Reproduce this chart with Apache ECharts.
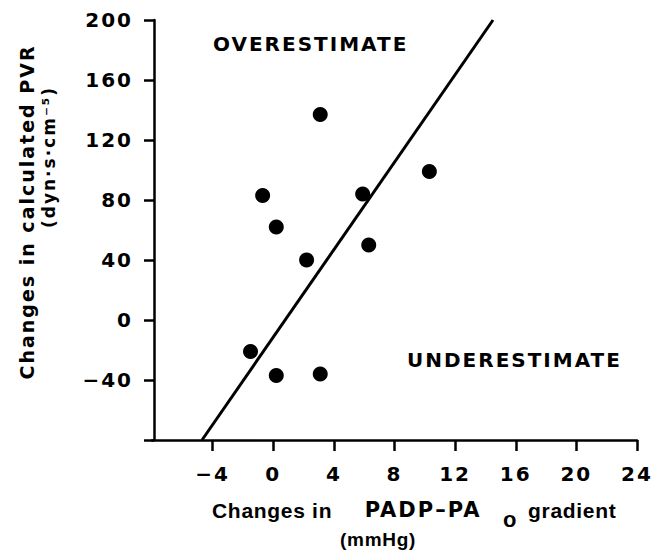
<!DOCTYPE html>
<html>
<head>
<meta charset="utf-8">
<script src="https://cdn.jsdelivr.net/npm/echarts@6/dist/echarts.min.js"></script>
<style>
  html, body { margin: 0; padding: 0; background: #fff; }
  #chart { width: 669px; height: 550px; }
  #chart text[style*="DejaVu"] { letter-spacing: 2px; }
  #chart text[style*="Liberation"] { letter-spacing: 0.7px; }
</style>
</head>
<body>
<div id="chart"></div>
<script>
// ---- data ----
const xTicks = [-4, 0, 4, 8, 12, 16, 20, 24];
const yTicks = [-40, 0, 40, 80, 120, 160, 200];
const xRange = [-8, 24];
const yRange = [-80, 200];
const pointX = [3.1, -0.7, 5.9, 10.3, 0.2, 6.3, 2.2, -1.5, 0.2, 3.1];
const pointY = [137, 83, 84, 99, 62, 50, 40, -21, -37, -36];
const fitX = [-4.7, 14.5];
const fitY = [-80, 200];

const WIDE = 'DejaVu Sans';
const NARROW = 'Liberation Sans';
const points = pointX.map((x, i) => [x, pointY[i]]);
const fit = fitX.map((x, i) => [x, fitY[i]]);
const minus = v => String(v).replace('-', '\u2212');

const chart = echarts.init(document.getElementById('chart'), null, { renderer: 'svg' });

const txt = (text, x, y, style, el) => Object.assign({
  type: 'text', x: x, y: y, silent: true,
  style: Object.assign({
    text: text, fill: '#000', fontFamily: WIDE, fontWeight: 'bold', fontSize: 20,
    align: 'left', textAlign: 'left', verticalAlign: 'middle', textVerticalAlign: 'middle'
  }, style || {})
}, el || {});
const center = { align: 'center', textAlign: 'center' };

chart.setOption({
  backgroundColor: '#fff',
  animation: false,
  grid: { left: 152, right: 32, top: 20, bottom: 110, containLabel: false },
  xAxis: {
    type: 'value', min: xRange[0], max: xRange[1], interval: 4,
    splitLine: { show: false },
    axisLine: { show: true, onZero: false, lineStyle: { color: '#000', width: 2.5 } },
    axisTick: { show: true, length: 11, lineStyle: { color: '#000', width: 2.5 }, customValues: xTicks },
    axisLabel: { color: '#000', fontFamily: WIDE, fontWeight: 'bold', fontSize: 20, margin: 24,
                 customValues: xTicks, formatter: minus }
  },
  yAxis: {
    type: 'value', min: yRange[0], max: yRange[1], interval: 40, offset: -2,
    name: 'Changes in calculated PVR', nameLocation: 'middle', nameRotate: 90, nameGap: 118,
    nameTextStyle: { color: '#000', fontFamily: WIDE, fontWeight: 'bold', fontSize: 19, padding: [0, 0, 0, 36] },
    splitLine: { show: false },
    axisLine: { show: true, onZero: false, lineStyle: { color: '#000', width: 2.5 } },
    axisTick: { show: true, length: 10, lineStyle: { color: '#000', width: 2.5 },
                customValues: [yRange[0]].concat(yTicks) },
    axisLabel: { color: '#000', fontFamily: WIDE, fontWeight: 'bold', fontSize: 20, margin: 21,
                 customValues: yTicks, formatter: minus }
  },
  graphic: [
    txt('(dyn·s·cm⁻⁵)', 49, 157, Object.assign({ fontSize: 17 }, center), { rotation: Math.PI / 2 }),
    txt('Changes in', 212, 510, { fontFamily: NARROW, fontSize: 21 }),
    txt('PADP–PA', 423, 510, Object.assign({ fontSize: 21 }, center)),
    txt('o', 503, 519, { fontFamily: NARROW, fontSize: 22 }),
    txt('gradient', 528, 510, { fontFamily: NARROW, fontSize: 21 }),
    txt('(mmHg)', 378, 539, Object.assign({ fontFamily: NARROW, fontSize: 19 }, center)),
    txt('OVERESTIMATE', 213, 44),
    txt('UNDERESTIMATE', 407, 360)
  ],
  series: [
    {
      type: 'line', data: fit, showSymbol: false, symbol: 'none',
      lineStyle: { color: '#000', width: 3 }, z: 2
    },
    {
      type: 'scatter', data: points, symbol: 'circle', symbolSize: 15,
      itemStyle: { color: '#000', opacity: 1 }, z: 3
    }
  ]
});
</script>
</body>
</html>
